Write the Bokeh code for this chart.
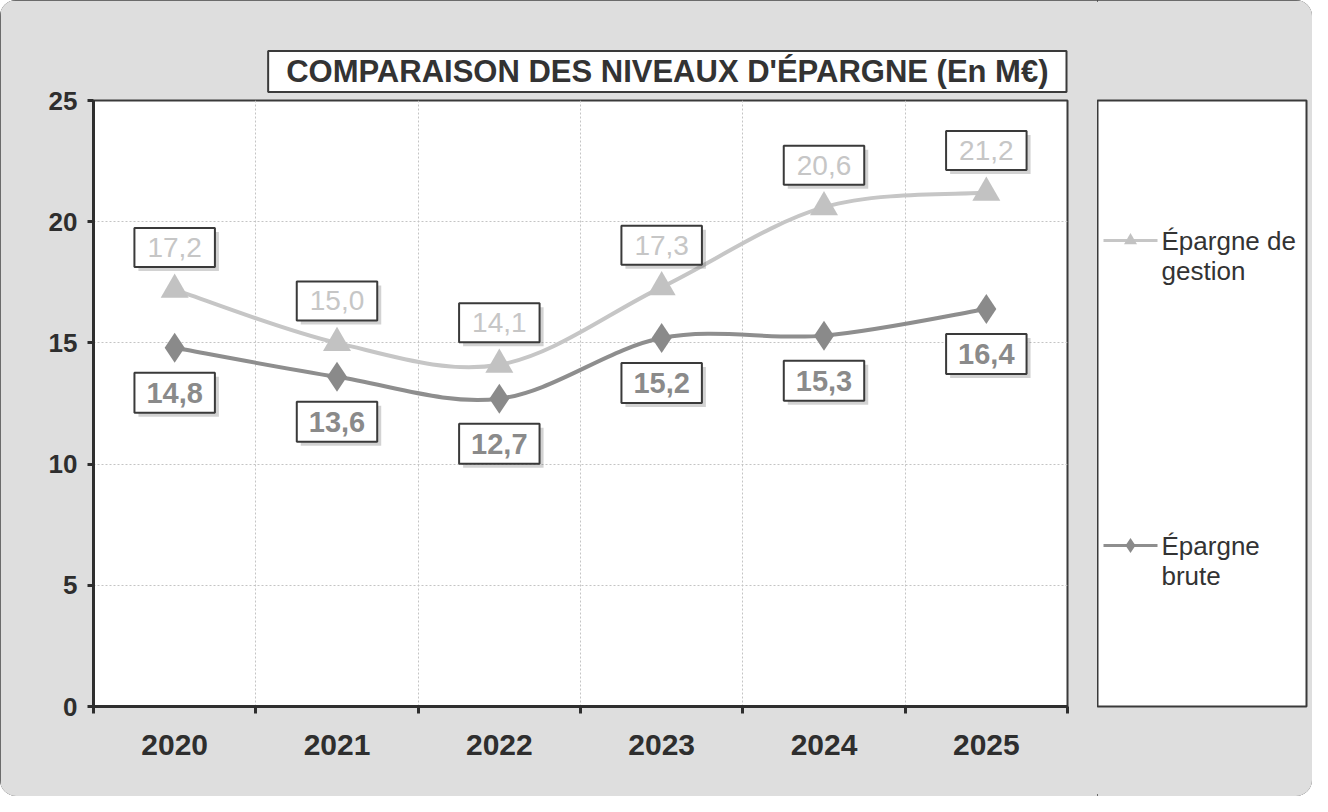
import numpy as np
from bokeh.plotting import figure
from bokeh.models import Range1d, FixedTicker, ColumnDataSource
from bokeh.layouts import row
from bokeh.embed import file_html
from bokeh.resources import INLINE
from bokeh.core.properties import value

# ---------------- data ----------------
years = ["2020", "2021", "2022", "2023", "2024", "2025"]
gestion = [17.2, 15.0, 14.1, 17.3, 20.6, 21.2]
brute = [14.8, 13.6, 12.7, 15.2, 15.3, 16.4]
y_ticks = [0, 5, 10, 15, 20, 25]
title_text = "COMPARAISON DES NIVEAUX D'ÉPARGNE (En M€)"
series_names = ["Épargne de\ngestion", "Épargne\nbrute"]

# ---------------- style ----------------
BG = "#dedede"
DARK = "#2e2e2e"
C_GEST = "#c6c6c6"
C_BRUTE = "#8e8e8e"
FONT = "Liberation Sans"


def fmt(v):
    return f"{v:.1f}".replace(".", ",")


xpos = np.arange(len(years)) + 0.5


def bezier_parts(x, y):
    x = np.asarray(x, float)
    y = np.asarray(y, float)
    xp = np.concatenate([[x[0]], x, [x[-1]]])
    yp = np.concatenate([[y[0]], y, [y[-1]]])
    n = len(x)
    d = dict(x0=[], y0=[], x1=[], y1=[], cx0=[], cy0=[], cx1=[], cy1=[])
    for i in range(n - 1):
        d["x0"].append(x[i]); d["y0"].append(y[i])
        d["x1"].append(x[i + 1]); d["y1"].append(y[i + 1])
        d["cx0"].append(x[i] + (xp[i + 2] - xp[i]) / 6)
        d["cy0"].append(y[i] + (yp[i + 2] - yp[i]) / 6)
        d["cx1"].append(x[i + 1] - (xp[i + 3] - xp[i + 1]) / 6)
        d["cy1"].append(y[i + 1] - (yp[i + 3] - yp[i + 1]) / 6)
    return ColumnDataSource(d)


p = figure(width=1097, height=796, x_range=Range1d(0, len(years)), y_range=Range1d(0, 25),
           output_backend="svg", toolbar_location=None,
           min_border_left=93, min_border_right=30, min_border_top=100, min_border_bottom=90)
p.background_fill_color = "white"
p.border_fill_color = BG
p.outline_line_color = "#3a3a3a"
p.outline_line_width = 2

# title (boxed)
p.title.text = title_text
p.title.align = "right"
p.title.offset = 1
p.title.standoff = 17
p.title.text_font = FONT
p.title.text_font_size = "31px"
p.title.text_font_style = "bold"
p.title.text_color = "#333333"
p.title.background_fill_color = "white"
p.title.border_line_color = "#3a3a3a"
p.title.border_line_width = 2
p.title.padding = (18, 3)

# x axis
xa = p.xaxis[0]
xa.ticker = FixedTicker(ticks=list(xpos), minor_ticks=list(range(len(years) + 1)))
xa.major_label_overrides = {float(x): y for x, y in zip(xpos, years)}
xa.major_tick_line_color = None
xa.major_tick_out = 0
xa.major_tick_in = 0
xa.minor_tick_out = 7
xa.minor_tick_in = 0
xa.minor_tick_line_width = 3
xa.minor_tick_line_color = DARK
xa.axis_line_width = 3
xa.axis_line_color = DARK
xa.major_label_text_font = FONT
xa.major_label_text_font_size = "30px"
xa.major_label_text_font_style = "bold"
xa.major_label_text_color = DARK
xa.major_label_standoff = 21

# y axis
ya = p.yaxis[0]
ya.ticker = FixedTicker(ticks=y_ticks)
ya.major_tick_out = 6
ya.major_tick_in = 0
ya.major_tick_line_width = 3
ya.major_tick_line_color = DARK
ya.minor_tick_line_color = None
ya.axis_line_width = 3
ya.axis_line_color = DARK
ya.major_label_text_font = FONT
ya.major_label_text_font_size = "26px"
ya.major_label_text_font_style = "bold"
ya.major_label_text_color = DARK
ya.major_label_standoff = 10

# grids
p.xgrid.ticker = FixedTicker(ticks=list(range(1, len(years))))
p.ygrid.ticker = FixedTicker(ticks=y_ticks[1:-1])
for g in (p.xgrid[0], p.ygrid[0]):
    g.grid_line_color = "#c4c4c4"
    g.grid_line_dash = "2 2"
    g.grid_line_width = 1

# smooth lines
p.bezier(x0="x0", y0="y0", x1="x1", y1="y1", cx0="cx0", cy0="cy0", cx1="cx1", cy1="cy1",
         source=bezier_parts(xpos, gestion), line_color=C_GEST, line_width=4)
p.bezier(x0="x0", y0="y0", x1="x1", y1="y1", cx0="cx0", cy0="cy0", cx1="cx1", cy1="cy1",
         source=bezier_parts(xpos, brute), line_color=C_BRUTE, line_width=4)

src = ColumnDataSource(dict(x=xpos, g=gestion, b=brute,
                            gl=[fmt(v) for v in gestion], bl=[fmt(v) for v in brute]))
p.scatter("x", "g", source=src, marker="triangle", size=28, fill_color="#c2c2c2", line_color=None)
p.scatter("x", "b", source=src, marker="diamond", size=30, fill_color="#8a8a8a", line_color=None)

# data labels (shadow + box)
common = dict(source=src, text_align="center", text_baseline="middle",
              text_font=value(FONT))
G_OFF, B_OFF = -42, 45
p.text(x="x", y="g", text="gl", x_offset=4, y_offset=G_OFF + 4, text_font_size="28px", text_alpha=0,
       background_fill_color="#6a6a6a", background_fill_alpha=0.3, padding=(13, 10), **common)
p.text(x="x", y="b", text="bl", x_offset=4, y_offset=B_OFF + 4, text_font_size="29px", text_alpha=0,
       text_font_style="bold",
       background_fill_color="#6a6a6a", background_fill_alpha=0.3, padding=(12, 10), **common)
p.text(x="x", y="g", text="gl", y_offset=G_OFF, text_font_size="28px", text_color="#c6c6c6",
       background_fill_color="white", border_line_color="#3a3a3a", border_line_width=2,
       padding=(13, 10), **common)
p.text(x="x", y="b", text="bl", y_offset=B_OFF, text_font_size="29px", text_color="#8a8a8a",
       text_font_style="bold",
       background_fill_color="white", border_line_color="#3a3a3a", border_line_width=2,
       padding=(12, 10), **common)

# ---------------- legend panel ----------------
q = figure(width=215, height=796, x_range=Range1d(0, 209), y_range=Range1d(606, 0),
           output_backend="svg", toolbar_location=None,
           min_border_left=0, min_border_right=6, min_border_top=100, min_border_bottom=90)
q.background_fill_color = "white"
q.border_fill_color = BG
q.outline_line_color = "#3a3a3a"
q.outline_line_width = 2
q.axis.visible = False
q.grid.visible = False

entries = [(series_names[0], C_GEST, "#c2c2c2", "triangle", 13, 140),
           (series_names[1], C_BRUTE, "#8a8a8a", "diamond", 15, 445)]
for name, lc, mc, mk, ms, ly in entries:
    q.segment(x0=[6], y0=[ly], x1=[60], y1=[ly], line_color=lc, line_width=3)
    q.scatter(x=[33], y=[ly], marker=mk, size=ms, fill_color=mc, line_color=None)
    for k, line in enumerate(name.split("\n")):
        q.text(x=[64], y=[ly + 30 * k], text=[line], text_baseline="middle", text_align="left",
               text_font=value(FONT), text_font_size="26px", text_color="#333333")

layout = row(p, q, spacing=0,
             styles={"background-color": BG, "outline": "2px solid #444",
                     "outline-offset": "-2px", "border-radius": "16px", "overflow": "hidden"})

open("out.html", "w").write(file_html(layout, INLINE))
